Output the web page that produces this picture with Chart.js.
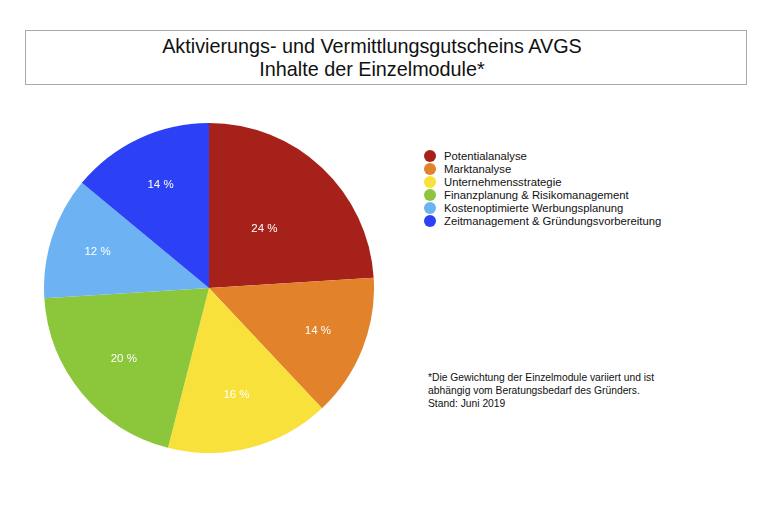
<!DOCTYPE html>
<html>
<head>
<meta charset="utf-8">
<script src="https://cdn.jsdelivr.net/npm/chart.js@4/dist/chart.umd.min.js"></script>
<style>
  html, body { margin: 0; padding: 0; background: #fff; }
  body { width: 762px; height: 508px; position: relative; overflow: hidden;
         font-family: "Liberation Sans", Arial, sans-serif; color: #111; }
  #title { position: absolute; left: 25px; top: 30px; width: 722px; height: 55px;
           border: 1px solid #aaa; text-align: center; font-size: 19.8px; line-height: 23px;
           box-sizing: border-box; padding: 4px 28px 0 0; }
  #pieBox { position: absolute; left: 44px; top: 123px; width: 330px; height: 330px; }
  #legend { position: absolute; left: 424px; top: 150px; font-size: 11.3px; }
  #legend div { height: 13px; line-height: 13px; white-space: nowrap; }
  #legend span { display: inline-block; width: 12px; height: 12px; border-radius: 50%;
                 vertical-align: -2px; margin-right: 8px; }
  #note { position: absolute; left: 428px; top: 371px; font-size: 10.3px; line-height: 13px; }
</style>
</head>
<body>
<div id="title">Aktivierungs- und Vermittlungsgutscheins AVGS<br>Inhalte der Einzelmodule*</div>
<div id="pieBox"><canvas id="pie"></canvas></div>
<div id="legend"></div>
<div id="note">*Die Gewichtung der Einzelmodule variiert und ist<br>abhängig vom Beratungsbedarf des Gründers.<br>Stand: Juni 2019</div>
<script>
const modules = ['Potentialanalyse', 'Marktanalyse', 'Unternehmensstrategie',
  'Finanzplanung & Risikomanagement', 'Kostenoptimierte Werbungsplanung',
  'Zeitmanagement & Gründungsvorbereitung'];
const shares = [24, 14, 16, 20, 12, 14];
const colors = ['#a6211a', '#e2822a', '#f8e13a', '#8cc63a', '#6db3f4', '#2c41f6'];
// label distance from centre, as part of radius
const labelPos = [0.49, 0.71, 0.67, 0.67, 0.71, 0.69];

const $ = s => document.querySelector(s);
modules.forEach((m, i) => {
  const d = document.createElement('div');
  d.innerHTML = `<span style="background:${colors[i]}"></span>`;
  d.appendChild(document.createTextNode(m));
  $('#legend').appendChild(d);
});

const sliceLabels = {
  id: 'sliceLabels',
  afterDatasetsDraw(chart) {
    const ctx = chart.ctx;
    ctx.save();
    ctx.fillStyle = '#fff';
    ctx.font = '11.5px "Liberation Sans", Arial, sans-serif';
    ctx.textAlign = 'center';
    ctx.textBaseline = 'middle';
    chart.getDatasetMeta(0).data.forEach((arc, i) => {
      const a = (arc.startAngle + arc.endAngle) / 2;
      const r = arc.outerRadius * labelPos[i];
      ctx.fillText(shares[i] + ' %', arc.x + Math.cos(a) * r, arc.y + Math.sin(a) * r);
    });
    ctx.restore();
  }
};

new Chart($('#pie'), {
  type: 'pie',
  data: { labels: modules, datasets: [{ data: shares, backgroundColor: colors, borderWidth: 0 }] },
  options: {
    responsive: true, maintainAspectRatio: false, animation: false,
    layout: { padding: 0 },
    plugins: { legend: { display: false }, tooltip: { enabled: false } }
  },
  plugins: [sliceLabels]
});
</script>
</body>
</html>
